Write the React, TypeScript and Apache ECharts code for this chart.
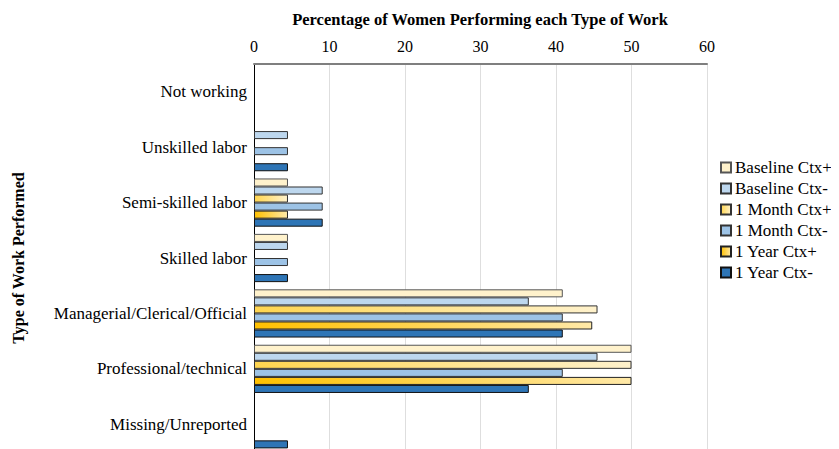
import React, { useEffect, useRef } from "react";
import * as echarts from "echarts";

const categories = [
  "Not working",
  "Unskilled labor",
  "Semi-skilled labor",
  "Skilled labor",
  "Managerial/Clerical/Official",
  "Professional/technical",
  "Missing/Unreported",
];

const seriesNames = [
  "Baseline Ctx+",
  "Baseline Ctx-",
  "1 Month Ctx+",
  "1 Month Ctx-",
  "1 Year Ctx+",
  "1 Year Ctx-",
];

const baselineCtxPlus = [0, 0, 4.5, 4.5, 40.9, 50, 0];
const baselineCtxMinus = [0, 4.5, 9.1, 4.5, 36.4, 45.5, 0];
const monthCtxPlus = [0, 0, 4.5, 0, 45.5, 50, 0];
const monthCtxMinus = [0, 4.5, 9.1, 4.5, 40.9, 40.9, 0];
const yearCtxPlus = [0, 0, 4.5, 0, 44.8, 50, 0];
const yearCtxMinus = [0, 4.5, 9.1, 4.5, 40.9, 36.4, 4.5];

const xTicks = [0, 10, 20, 30, 40, 50, 60];

const grad = (a: string, b: string) =>
  new echarts.graphic.LinearGradient(0, 0, 1, 0, [
    { offset: 0, color: a },
    { offset: 1, color: b },
  ]);

export default function App() {
  const ref = useRef<HTMLDivElement>(null);
  useEffect(() => {
    if (!ref.current) return;
    const chart = echarts.init(ref.current, undefined, { renderer: "svg" });
    const font = "'Liberation Serif', 'Times New Roman', serif";
    const colors = [
      "#FFF2CC",
      "#BDD7EE",
      grad("#FFD54F", "#FFF2CC"),
      "#9DC3E6",
      grad("#FFC000", "#FFE9A8"),
      "#2E75B6",
    ];
    const borders = ["#555", "#333", "#333", "#333", "#222", "#111"];
    const dataSets = [
      baselineCtxPlus,
      baselineCtxMinus,
      monthCtxPlus,
      monthCtxMinus,
      yearCtxPlus,
      yearCtxMinus,
    ];
    chart.setOption({
      animation: false,
      textStyle: { fontFamily: font },
      title: {
        text: "Percentage of Women Performing each Type of Work",
        left: 472,
        textAlign: "center",
        top: 3,
        padding: 0,
        textStyle: {
          fontFamily: font,
          fontSize: 16.5,
          fontWeight: "bold",
          color: "#000",
        },
      },
      legend: {
        orient: "vertical",
        left: 712,
        top: 151,
        itemWidth: 10,
        itemHeight: 10,
        itemGap: 4,
        padding: 0,
        icon: "rect",
        textStyle: {
          fontFamily: font,
          fontSize: 17,
          color: "#000",
          padding: [0, 0, 0, -1],
        },
        data: seriesNames,
      },
      grid: {
        left: 246,
        right: 132,
        top: 56,
        height: 388,
        containLabel: false,
        outerBoundsMode: "none",
      },
      xAxis: {
        type: "value",
        position: "top",
        min: xTicks[0],
        max: xTicks[xTicks.length - 1],
        interval: 10,
        axisLine: { show: true, lineStyle: { color: "#7f7f7f", width: 2 } },
        axisTick: { show: false },
        axisLabel: {
          fontFamily: font,
          fontSize: 16,
          color: "#000",
          margin: 10,
        },
        splitLine: { show: true, lineStyle: { color: "#dedede", width: 1 } },
      },
      yAxis: {
        type: "category",
        inverse: true,
        data: categories,
        name: "Type of Work Performed",
        nameLocation: "middle",
        nameRotate: 90,
        nameGap: 228,
        nameTextStyle: {
          fontFamily: font,
          fontSize: 16,
          fontWeight: "bold",
          color: "#000",
        },
        axisLine: { show: true, lineStyle: { color: "#000", width: 1 } },
        axisTick: { show: false },
        axisLabel: {
          fontFamily: font,
          fontSize: 17,
          color: "#000",
          margin: 7,
        },
      },
      series: seriesNames.map((name, i) => ({
        name,
        type: "bar",
        data: dataSets[i].map((v) => (v === 0 ? null : v)),
        barGap: "0%",
        barCategoryGap: "13%",
        itemStyle: {
          color: colors[i],
          borderColor: borders[i],
          borderWidth: 1,
        },
        emphasis: { disabled: true },
      })),
    });
    return () => chart.dispose();
  }, []);
  return <div ref={ref} style={{ width: 831, height: 441 }} />;
}
